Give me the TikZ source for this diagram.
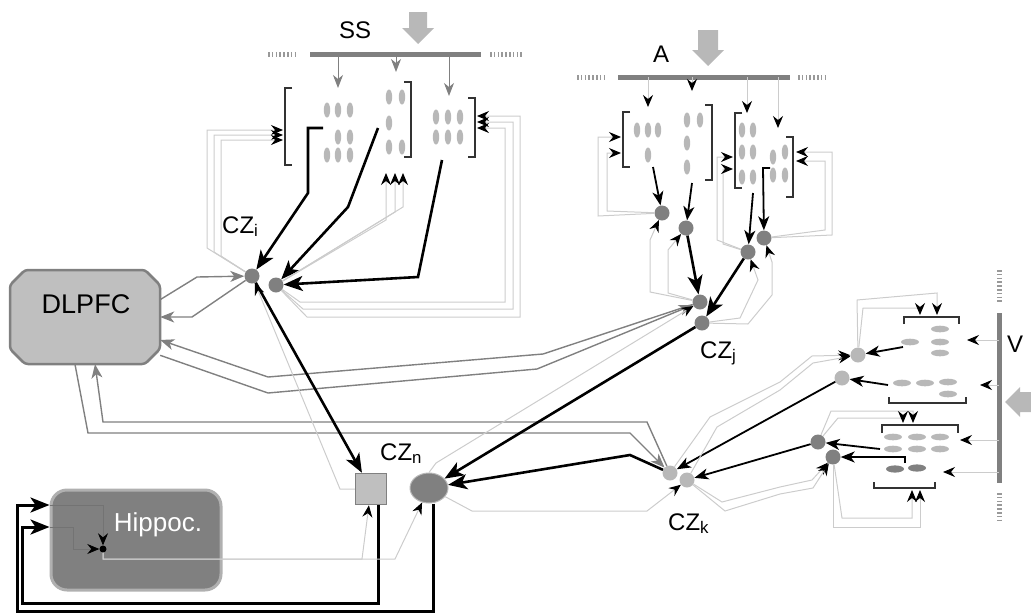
\documentclass[tikz,border=0pt]{standalone}
\usepackage{fontspec}
\setmainfont{Liberation Sans}
\usetikzlibrary{arrows.meta, shapes.geometric, positioning}

\definecolor{dkgray}{gray}{0.50}
\definecolor{ltgray}{gray}{0.72}
\definecolor{graincol}{gray}{0.72}
\definecolor{pfcgray}{gray}{0.75}
\definecolor{edgegray}{gray}{0.50}
\definecolor{faint}{gray}{0.80}

\begin{document}
\begin{tikzpicture}[
    x=1pt, y=-1pt,
    >=Stealth,
    lbl/.style={font=\fontsize{24}{26}\selectfont, inner sep=0pt, anchor=base west},
    czdark/.style={circle, fill=dkgray, minimum size=15pt, inner sep=0pt},
    czlight/.style={circle, fill=ltgray, minimum size=15pt, inner sep=0pt},
    pfcbox/.style={rectangle, minimum width=150pt, minimum height=94pt, inner sep=0pt},
    hipbox/.style={rectangle, rounded corners=16pt, fill=dkgray, draw=gray!62, line width=3pt, minimum width=170pt, minimum height=100pt},
    sqbox/.style={rectangle, fill=pfcgray, draw=edgegray, line width=1.5pt, minimum size=31pt, inner sep=0pt},
    cznbox/.style={ellipse, fill=dkgray, draw=ltgray, line width=1pt, minimum width=38pt, minimum height=30pt, inner sep=0pt},
    main/.style={line width=2.6pt, -{Stealth[length=19pt, width=15pt, inset=5pt]}},
    feed/.style={line width=1.8pt, -{Stealth[length=14pt, width=11pt, inset=4pt]}},
    fbline/.style={draw=faint, line width=1pt, -{Stealth[length=12pt, width=10pt, inset=4pt, color=black]}},
    hipline/.style={draw=black!55, line width=0.8pt, -{Stealth[length=12pt, width=10pt, inset=4pt, color=black]}},
    inline/.style={draw=dkgray, line width=1pt, -{Stealth[length=13pt, width=10pt, inset=4pt]}},
    pfcline/.style={draw=edgegray, line width=1.4pt, -{Stealth[length=14pt, width=11pt, inset=4pt]}},
    brk/.style={draw=black!80, line width=1.5pt},
    bar/.style={draw=dkgray, line width=5pt},
    dotbar/.style={draw=dkgray!80, line width=5pt, dash pattern=on 1.6pt off 2.2pt},
    bigarrow/.style={fill=ltgray}
]
\useasboundingbox (0,0) rectangle (1031,614);

% 1. Big boxes
\filldraw[fill=pfcgray, draw=edgegray, line width=2.5pt, rounded corners=3pt]
    (25,270) -- (145,270) -- (160,285) -- (160,349) -- (145,364) -- (25,364) -- (10,349) -- (10,285) -- cycle;
\node[pfcbox] (pfc) at (85,317) {};
\node[lbl, font=\fontsize{27}{29}\selectfont, anchor=base] (pfclbl) at (86,313) {DLPFC};
\node[hipbox] (hip) at (136,540) {};
\node[lbl, text=white, font=\fontsize{26}{28}\selectfont, anchor=base] (hiplbl) at (158,531) {Hippoc.};
\node[circle, fill=black, minimum size=7pt, inner sep=0pt] (hdot) at (103,549) {};
\node[sqbox] (sq) at (371,489) {};
\node[cznbox] (czn) at (429,488) {};

% 2. CZ nodes
\node[czdark] (ci1) at (252,276) {};
\node[czdark] (ci2) at (276,285) {};
\node[czdark] (c1) at (662,213) {};
\node[czdark] (c2) at (686,228) {};
\node[czdark] (c3) at (748,252) {};
\node[czdark] (c4) at (764,238) {};
\node[czdark] (czj1) at (700,302) {};
\node[czdark] (czj2) at (702,323) {};
\node[czlight] (czk1) at (670,473) {};
\node[czlight] (czk2) at (687,480) {};
\node[czlight] (v1) at (858,355) {};
\node[czlight] (v2) at (842,378) {};
\node[czdark] (v3) at (818,442) {};
\node[czdark] (v4) at (833,457) {};

\node[lbl] (czilbl) at (222,233) {CZ\textsubscript{i}};
\node[lbl] (czjlbl) at (700,358) {CZ\textsubscript{j}};
\node[lbl] (czklbl) at (668,530) {CZ\textsubscript{k}};
\node[lbl] (cznlbl) at (380,460) {CZ\textsubscript{n}};

% 3. SS input
\node[lbl] (sslbl) at (339,38) {SS};
\fill[bigarrow] (409,12) -- (427,12) -- (427,28) -- (434,28) -- (418,44) -- (402,28) -- (409,28) -- cycle;
\draw[bar] (310,54) -- (481,54);
\draw[dotbar] (268,54) -- (297,54);
\draw[dotbar] (490,54) -- (522,54);
\foreach \n/\x/\t in {1/338/88, 2/396/72, 3/449/96}
    \draw[inline] (\x,54) coordinate (sstap\n) -- (\x,\t) coordinate (ssgrp\n);

\foreach \x/\y in {327/110,338/110,350/110,338/137,350/137,327/155,338/155,350/155,
                   389/97,402/97,389/123,389/147,402/147,
                   436/117,448/117,460/117,436/137,448/137,460/137}
    \fill[graincol] (\x,\y) ellipse [x radius=3.2, y radius=7.5];
\draw[brk] (292,88) -- (285,88) -- (285,165) -- (292,165);
\draw[brk] (404,82) -- (411,82) -- (411,157) -- (404,157);
\draw[brk] (468,98) -- (475,98) -- (475,157) -- (468,157);

\coordinate (ssout1) at (323,128);
\coordinate (ssout2) at (378,128);
\coordinate (ssout3) at (442,160);
\coordinate (sslin1) at (283,130);
\coordinate (sslin2) at (283,135);
\coordinate (sslin3) at (283,140);
\coordinate (ssrin1) at (477,116);
\coordinate (ssrin2) at (477,122);
\coordinate (ssrin3) at (477,128);
\coordinate (ssmin1) at (386,173);
\coordinate (ssmin2) at (395,173);
\coordinate (ssmin3) at (403,173);

\draw[main] (ssout1) -- (308,128) -- (308,193) -- (ci1);
\draw[main] (ssout2) -- (348,207) -- (ci2);
\draw[main] (ssout3) -- (418,277) -- (ci2);

\draw[fbline] (ci1) -- (207,248) -- (207,130) -- (sslin1);
\draw[fbline] (ci1) -- (214,252) -- (214,135) -- (sslin2);
\draw[fbline] (ci1) -- (221,256) -- (221,140) -- (sslin3);
\draw[fbline] (ci2) -- (300,302) -- (505,302) -- (505,128) -- (ssrin3);
\draw[fbline] (ci2) -- (303,309) -- (513,309) -- (513,122) -- (ssrin2);
\draw[fbline] (ci2) -- (307,317) -- (520,317) -- (520,116) -- (ssrin1);
\draw[fbline] (ci2) -- (386,220) -- (ssmin1);
\draw[fbline] (ci2) -- (395,212) -- (ssmin2);
\draw[fbline] (ci2) -- (403,207) -- (ssmin3);

% 4. A input
\node[lbl] (albl) at (653,62) {A};
\fill[bigarrow] (698,30) -- (718,30) -- (718,50) -- (724,50) -- (708,66) -- (692,50) -- (698,50) -- cycle;
\draw[bar] (618,77) -- (790,77);
\draw[dotbar] (577,77) -- (605,77);
\draw[dotbar] (798,77) -- (827,77);
\foreach \n/\x/\t in {1/648/107, 2/692/91, 3/747/113, 4/778/128}
    \draw[fbline] (\x,77) coordinate (atap\n) -- (\x,\t) coordinate (agrp\n);

\foreach \x/\y in {637/130,648/130,658/130,648/155,
                   687/120,700/120,687/143,687/167,
                   742/130,753/130,742/152,753/152,742/177,753/177,
                   773/157,785/152,773/175,785/175}
    \fill[graincol] (\x,\y) ellipse [x radius=3.2, y radius=7.5];
\draw[brk] (630,112) -- (623,112) -- (623,167) -- (630,167);
\draw[brk] (705,105) -- (712,105) -- (712,180) -- (705,180);
\draw[brk] (742,113) -- (735,113) -- (735,188) -- (742,188);
\draw[brk] (786,137) -- (793,137) -- (793,197) -- (786,197);

\coordinate (aout1) at (653,167);
\coordinate (aout2) at (692,183);
\coordinate (aout3) at (753,193);
\coordinate (aout4) at (770,168);
\coordinate (ain1) at (621,137);
\coordinate (ain2) at (621,153);
\coordinate (ain3) at (733,157);
\coordinate (ain4) at (733,169);
\coordinate (ain5) at (796,152);
\coordinate (ain6) at (796,161);

\draw[feed] (aout1) -- (c1);
\draw[feed] (aout2) -- (c2);
\draw[feed] (aout3) -- (c3);
\draw[feed] (aout4) -- (763,168) -- (c4);
\draw[main] (c2) -- (czj1);
\draw[main] (c3) -- (czj2);

\draw[fbline] (c1) -- (598,216) -- (598,137) -- (ain1);
\draw[fbline] (c1) -- (607,211) -- (607,153) -- (ain2);
\draw[fbline] (c3) -- (717,240) -- (717,157) -- (ain3);
\draw[fbline] (c3) -- (723,244) -- (723,169) -- (ain4);
\draw[fbline] (c4) -- (832,235) -- (832,152) -- (ain5);
\draw[fbline] (c4) -- (825,230) -- (825,161) -- (ain6);
\draw[fbline] (czj1) -- (650,292) -- (650,240) -- (c1);
\draw[fbline] (czj1) -- (668,293) -- (668,250) -- (c2);
\draw[fbline] (czj2) -- (740,318) -- (758,280) -- (c3);
\draw[fbline] (czj2) -- (748,324) -- (772,295) -- (772,262) -- (c4);

% 5. V input
\node[lbl] (vlbl) at (1007,352) {V};
\fill[bigarrow] (1031,392) -- (1020,392) -- (1020,387) -- (1005,402) -- (1020,417) -- (1020,412) -- (1031,412) -- cycle;
\draw[bar] (999,313) -- (999,483);
\draw[dotbar] (999,270) -- (999,303);
\draw[dotbar] (999,493) -- (999,520);
\foreach \n/\y/\t in {1/340/967, 2/385/980, 3/440/960, 4/472/943}
    \draw[fbline] (999,\y) coordinate (vtap\n) -- (\t,\y) coordinate (vgrp\n);

\foreach \x/\y in {940/329,910/342,940/342,940/353,
                   902/383,925/383,948/382,948/394,
                   893/437,917/437,940/437,893/449,917/449,940/449}
    \fill[graincol] (\x,\y) ellipse [x radius=9, y radius=3.3];
\foreach \x/\y in {895/469,917/468}
    \fill[dkgray] (\x,\y) ellipse [x radius=9, y radius=3.6];
\draw[brk] (904,324) -- (904,317) -- (959,317) -- (959,324);
\draw[brk] (889,397) -- (889,403) -- (966,403) -- (966,397);
\draw[brk] (882,433) -- (882,425) -- (958,425) -- (958,433);
\draw[brk] (874,482) -- (874,488) -- (935,488) -- (935,482);

\coordinate (vout1) at (903,347);
\coordinate (vout2) at (888,385);
\coordinate (vout3) at (880,449);
\coordinate (vout4) at (905,463);
\coordinate (vin1) at (937,315);
\coordinate (vin2) at (920,315);
\coordinate (vin3) at (913,423);
\coordinate (vin4) at (903,423);
\coordinate (vin5) at (912,490);
\coordinate (vin6) at (920,490);

\draw[feed] (vout1) -- (v1);
\draw[feed] (vout2) -- (v2);
\draw[feed] (vout3) -- (v3);
\draw[feed] (vout4) -- (905,457) -- (v4);
\draw[feed] (v2) -- (czk1);
\draw[feed] (v3) -- (czk2);

\draw[fbline] (v1) -- (857,300) -- (937,293) -- (vin1);
\draw[fbline] (v1) -- (863,308) -- (920,308) -- (vin2);
\draw[fbline] (v3) -- (831,411) -- (913,411) -- (vin3);
\draw[fbline] (v3) -- (838,418) -- (903,418) -- (vin4);
\draw[fbline] (v4) -- (842,518) -- (912,518) -- (vin5);
\draw[fbline] (v4) -- (833,527) -- (920,527) -- (vin6);
\draw[fbline] (czk1) -- (710,417) -- (780,382) -- (812,356) -- (v1);
\draw[fbline] (czk2) -- (717,427) -- (780,390) -- (813,363) -- (v1);
\draw[fbline] (czk2) -- (722,502) -- (780,487) -- (812,480) -- (v4);
\draw[fbline] (czk2) -- (725,511) -- (780,494) -- (813,488) -- (v4);

% 6. DLPFC links
\draw[pfcline] (pfc.13) -- (197,277) -- (ci1);
\draw[pfcline] (ci1) -- (192,317) -- (pfc.east);
\draw[pfcline] (czj1) -- (543,354) -- (268,377) -- (pfc.-17);
\draw[pfcline] (pfc.-27) -- (268,393) -- (537,369) -- (czj1);
\draw[pfcline] (pfc.-102) -- (88,433) -- (630,433) -- (czk1);
\draw[pfcline] (czk1) -- (647,422) -- (103,422) -- (pfc.-78);

% 7. Convergence on CZn and hippocampus
\draw[main] (ci1) -- (sq);
\draw[main] (czj2) -- (czn);
\draw[main] (czk1) -- (630,455) -- (czn);
\draw[fbline] (sq) -- (340,489) -- (ci1);
\draw[fbline] (czn.north) -- (436,463) -- (czj1);
\draw[fbline] (czn) -- (472,511) -- (647,511) -- (czk2);

\draw[main, line width=3pt] ([xshift=7pt]sq.south) -- (378,603) -- (22,603) -- (22,527) -- ([yshift=13pt]hip.west);
\draw[main, line width=3pt] ([xshift=4pt]czn.south) -- (433,611) -- (17,611) -- (17,505) -- ([yshift=35pt]hip.west);
\draw[hipline] ([yshift=35pt]hip.west) -- (103,505) -- (hdot);
\draw[hipline] ([yshift=13pt]hip.west) -- (73,527) -- (73,549) -- (hdot);
\draw[fbline] (hdot) -- (103,559) -- (362,559) -- (sq);
\draw[fbline] (hdot) -- (103,559) -- (395,559) -- (czn);

\end{tikzpicture}
\end{document}
